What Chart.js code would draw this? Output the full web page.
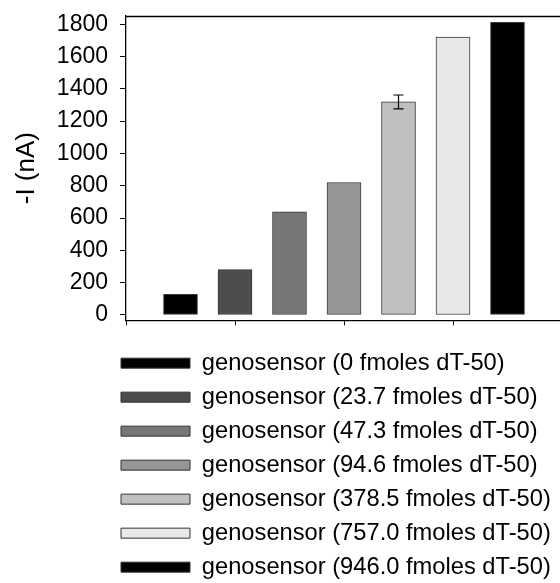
<!DOCTYPE html>
<html>
<head>
<meta charset="utf-8">
<script src="https://cdn.jsdelivr.net/npm/chart.js@4/dist/chart.umd.min.js"></script>
<style>
  html, body { margin: 0; padding: 0; background: #fff; overflow: hidden; }
  #wrap { width: 560px; height: 583px; overflow: hidden; }
</style>
</head>
<body>
<div id="wrap"><canvas id="c" width="562" height="583"></canvas></div>
<script>
// Sample labels (target amount of dT-50 on the genosensor)
const sampleLabels = [
  'genosensor (0 fmoles dT-50)',
  'genosensor (23.7 fmoles dT-50)',
  'genosensor (47.3 fmoles dT-50)',
  'genosensor (94.6 fmoles dT-50)',
  'genosensor (378.5 fmoles dT-50)',
  'genosensor (757.0 fmoles dT-50)',
  'genosensor (946.0 fmoles dT-50)'
];
// Bar position along the category axis
const barPositions = [1, 2, 3, 4, 5, 6, 7];
// Measured current, -I in nA
const currentNA = [128, 281, 638, 820, 1319, 1720, 1812];
// Standard deviation (only shown where reported)
const currentSD = [null, null, null, null, 43, null, null];
// Fill shade per sample
const barColors = ['#000000', '#4d4d4d', '#777777', '#969696', '#c0c0c0', '#e8e8e8', '#000000'];
// Y axis tick values
const yTickValues = [0, 200, 400, 600, 800, 1000, 1200, 1400, 1600, 1800];
// X axis tick marks
const xTickValues = [0, 2, 4, 6, 8];

const TICK_FONT = { family: '"Liberation Sans", Arial, sans-serif', size: 23 };
const LEGEND_FONT = { family: '"Liberation Sans", Arial, sans-serif', size: 23.7 };
const LEGEND_PAD = 10.3;

// Top frame line, legend placement and error bars
const decorations = {
  id: 'decorations',
  afterLayout(chart) {
    // put the legend column under the plot, left-aligned
    const lg = chart.legend;
    const shift = (121 - LEGEND_PAD) - lg.left;
    lg.left += shift;
    lg.right += shift;
  },
  afterDatasetsDraw(chart) {
    const { ctx, chartArea, scales } = chart;
    ctx.save();
    ctx.strokeStyle = '#000';
    ctx.lineWidth = 1.3;
    ctx.beginPath();
    ctx.moveTo(chartArea.left, chartArea.top + 0.5);
    ctx.lineTo(chartArea.right, chartArea.top + 0.5);
    ctx.stroke();
    ctx.lineWidth = 1.2;
    currentSD.forEach((sd, i) => {
      if (sd == null) return;
      const x = scales.x.getPixelForValue(barPositions[i]);
      const yTop = scales.y.getPixelForValue(currentNA[i] + sd);
      const yBot = scales.y.getPixelForValue(currentNA[i] - sd);
      ctx.beginPath();
      ctx.moveTo(x, yTop); ctx.lineTo(x, yBot);
      ctx.moveTo(x - 5, yTop); ctx.lineTo(x + 5, yTop);
      ctx.moveTo(x - 5, yBot); ctx.lineTo(x + 5, yBot);
      ctx.stroke();
    });
    ctx.restore();
  }
};

new Chart(document.getElementById('c'), {
  type: 'bar',
  data: {
    datasets: [{
      data: barPositions.map((x, i) => ({ x: x, y: currentNA[i] })),
      backgroundColor: barColors,
      borderColor: '#3a3a3a',
      borderWidth: 1,
      borderSkipped: false,
      barThickness: 34
    }]
  },
  options: {
    responsive: false,
    animation: false,
    layout: { padding: { top: 16, right: 0, bottom: -6, left: 0 } },
    plugins: {
      tooltip: { enabled: false },
      legend: {
        position: 'bottom',
        align: 'start',
        labels: {
          boxWidth: 69,
          boxHeight: 10,
          padding: LEGEND_PAD,
          color: '#000',
          font: LEGEND_FONT,
          generateLabels: () => sampleLabels.map((t, i) => ({
            text: t,
            fillStyle: barColors[i],
            strokeStyle: '#333',
            lineWidth: 1,
            hidden: false,
            index: i
          }))
        }
      }
    },
    scales: {
      x: {
        type: 'linear',
        min: 0,
        max: 8,
        offset: false,
        afterBuildTicks: (s) => { s.ticks = xTickValues.map(v => ({ value: v })); },
        afterFit: (s) => { s.height = 20.7; s.paddingLeft = 0; s.paddingRight = 0; },
        ticks: { display: false },
        grid: { offset: false, drawOnChartArea: false, drawTicks: true, tickLength: 5, color: '#000', lineWidth: 1 },
        border: { display: true, color: '#000', width: 1.3 }
      },
      y: {
        min: -33,
        max: 1851,
        afterBuildTicks: (s) => { s.ticks = yTickValues.map(v => ({ value: v })); },
        afterFit: (s) => { s.width = 126; s.paddingTop = 0; s.paddingBottom = 0; },
        ticks: { color: '#000', font: TICK_FONT, padding: 12, autoSkip: false, callback: (v) => String(v) },
        grid: { drawOnChartArea: false, drawTicks: true, tickLength: 6, color: '#000', lineWidth: 1 },
        border: { display: true, color: '#000', width: 1.3 },
        title: {
          display: true,
          text: '-I (nA)',
          color: '#000',
          font: { family: '"Liberation Sans", Arial, sans-serif', size: 26 },
          padding: { top: 11, bottom: 0 }
        }
      }
    }
  },
  plugins: [decorations]
});
</script>
</body>
</html>
